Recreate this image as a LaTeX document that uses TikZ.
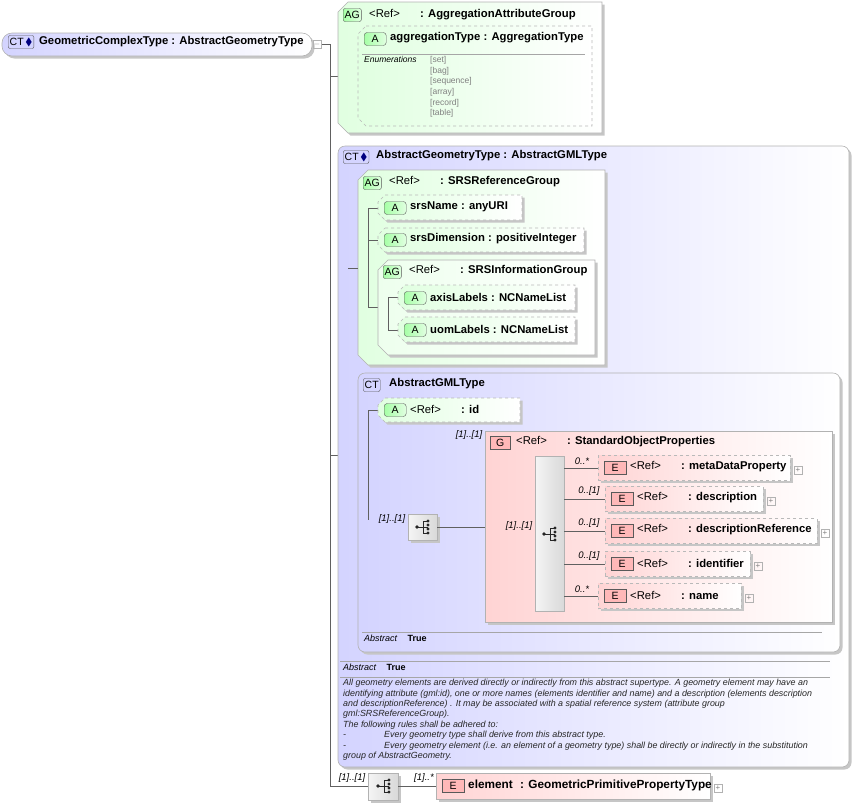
\documentclass[tikz,border=0pt]{standalone}
\usepackage{amssymb}
\usepackage{fontspec}
\setmainfont{Liberation Sans}
\usetikzlibrary{shadows}
\newcommand\refx{\makebox[51pt][l]{\mdseries<Ref>}\bfseries}
\begin{document}
\begin{tikzpicture}[x=1pt,y=-1pt,
  ln/.style={draw=gray!75!black,line width=0.6pt},
  box/.style={anchor=north west,inner sep=0pt,outer sep=0pt,line width=0.6pt},
  sh/.style={drop shadow={shadow xshift=2.5pt,shadow yshift=-2.5pt,fill=gray!45,opacity=1}},
  grn/.style={draw=gray!60,line width=0.6pt,left color=green!12!white,right color=white},
  attr/.style={draw=gray!55,line width=0.6pt,dashed,left color=green!12!white,right color=white},
  elem/.style={box,draw=gray!55,dashed,left color=red!17!white,right color=white},
  ctb/.style={box,draw=gray!60,rounded corners=7pt,left color=blue!17!white,right color=white},
  seq/.style={box,draw=gray!60,left color=gray!8,right color=gray!30},
  badge/.style={anchor=west,draw=gray!70!black,rounded corners=2pt,inner sep=1.5pt,minimum height=13pt,font=\fontsize{10.5}{11}\selectfont},
  bA/.style={badge,left color=green!35!white,right color=green!12!white,rounded corners=3pt,minimum width=22pt},
  bG/.style={badge,left color=green!35!white,right color=green!12!white},
  bE/.style={badge,fill=red!28,rounded corners=0pt,minimum width=22pt},
  bCT/.style={badge,fill=blue!17},
  lbl/.style={anchor=west,inner sep=0pt,font=\fontsize{11.3}{13}\selectfont\bfseries},
  rl/.style={anchor=west,inner sep=0pt,font=\fontsize{11.3}{13}\selectfont},
  card/.style={anchor=south,inner sep=0pt,font=\fontsize{9.5}{10}\selectfont\itshape},
  small/.style={anchor=north west,inner sep=0pt,font=\fontsize{9}{10.5}\selectfont},
  plus/.style={draw=gray!60,minimum size=8pt,inner sep=0pt,font=\fontsize{8}{8}\selectfont,text=gray},
]
\useasboundingbox (0,0) rectangle (853,804);
\newcommand\bx[6]{\node[#6,minimum width={(#3-#1)*1pt},minimum height={(#4-#2)*1pt}] (#5) at (#1,#2) {};}
\newcommand\cham[6]{\path[#6] (#1+#5,#2)--(#3,#2)--(#3,#4)--(#1+#5,#4)--(#1,#4-#5)--(#1,#2+#5)--cycle;}
\newcommand\seqicon[2]{%
 \fill[gray!30!black] (#1-6,#2) circle (1.8pt);
 \draw[gray!30!black,line width=0.8pt] (#1-6,#2)--(#1,#2) (#1,#2-6)--(#1,#2+6) (#1,#2-6)--(#1+5,#2-6) (#1,#2)--(#1+5,#2) (#1,#2+6)--(#1+5,#2+6);
 \foreach \yy in {-6,-2,2,6} \fill[gray!30!black] (#1+5,#2+\yy) circle (1.7pt);}

% ---- connectors (behind) ----
\draw[ln] (321,44)--(330,44)--(330,786)--(368,786);
\draw[ln] (330,76)--(358,76);
\draw[ln] (330,455)--(348,455);
\draw[ln] (348,268)--(348,513)--(368,513)--(368,520)--(408,520);

% root
\bx{2}{33}{312}{56}{root}{ctb,sh,rounded corners=10pt}
\node[bCT] (rootb) at (8,42) {CT\,\textcolor{blue!50!black}{$\blacklozenge$}};
\node[lbl] at (39,42) {GeometricComplexType : AbstractGeometryType};
\node[plus] (rminus) at (317,44) {$-$};

% AG aggregation
\cham{338}{2}{602}{133}{10}{grn,sh}
\node[bG] at (343,15) {AG};
\node[rl] at (369,15) {\refx: AggregationAttributeGroup};
\cham{358}{26}{592}{126}{8}{attr}
\node[bA] at (364,39) {A};
\node[lbl] at (390,38) {aggregationType : AggregationType};
\draw[gray!70] (362,54)--(585,54);
\node[small,font=\fontsize{8.5}{10}\selectfont\itshape] at (364,56) {Enumerations};
\foreach \t [count=\i from 0] in {set,bag,sequence,array,record,table}
  \node[small,text=gray,font=\fontsize{8.5}{10}\selectfont] at (430,56+\i*10.7) {[\t]};

% CT AbstractGeometryType
\bx{338}{146}{849}{767}{agt}{ctb,sh}
\node[bCT] at (343,157) {CT\,\textcolor{blue!50!black}{$\blacklozenge$}};
\node[lbl] at (376,156) {AbstractGeometryType : AbstractGMLType};

% SRS reference group
\cham{358}{170}{605}{365}{10}{grn,sh}
\draw[ln] (348,268)--(358,268);
\node[bG] at (363,183) {AG};
\node[rl] at (389,182) {\refx: SRSReferenceGroup};
\draw[ln] (368,208)--(368,307);
\draw[ln] (368,208)--(378,208) (368,240)--(378,240) (368,307)--(378,307);
\cham{378}{195}{522}{220}{7}{attr,sh}
\node[bA] at (384,208) {A};
\node[lbl] at (410,207) {srsName : anyURI};
\cham{378}{228}{584}{252}{7}{attr,sh}
\node[bA] at (384,240) {A};
\node[lbl] at (410,239) {srsDimension : positiveInteger};
\cham{378}{260}{595}{355}{10}{grn,sh,left color=green!7!white}
\node[bG] at (383,272) {AG};
\node[rl] at (409,271) {\refx: SRSInformationGroup};
\draw[ln] (388,297)--(388,330) (388,297)--(398,297) (388,330)--(398,330);
\cham{398}{285}{575}{310}{7}{attr,sh}
\node[bA] at (404,298) {A};
\node[lbl] at (430,297) {axisLabels : NCNameList};
\cham{398}{317}{575}{342}{7}{attr,sh}
\node[bA] at (404,330) {A};
\node[lbl] at (430,329) {uomLabels : NCNameList};

% CT AbstractGMLType
\bx{358}{373}{840}{652}{gml}{ctb,sh}
\node[bCT] at (363,385) {CT};
\node[lbl] at (389,384) {AbstractGMLType};
\draw[ln] (368,410)--(368,520);
\draw[ln] (368,410)--(378,410);
\cham{378}{398}{520}{422}{7}{attr,sh}
\node[bA] at (384,410) {A};
\node[rl] at (410,409) {\refx: id};
\node[card] at (392,524) {[1]..[1]};
\bx{408}{514}{437}{540}{seq1}{seq,sh}
\seqicon{423}{527}
\draw[ln] (437,527)--(535,527);

% group StandardObjectProperties
\bx{485}{431}{832}{622}{sop}{box,draw=gray!60,left color=red!17!white,right color=white,sh}
\node[card] at (469,440) {[1]..[1]};
\node[badge,fill=red!28,rounded corners=0pt,minimum width=20pt] at (490,443) {G};
\node[rl] at (516,442) {\refx: StandardObjectProperties};
\node[card] at (519,531) {[1]..[1]};
\bx{535}{456}{564}{611}{seq2}{seq}
\seqicon{550}{534}
\foreach \yc/\xa/\xb/\c/\nm in {468/598/790/0..*/metaDataProperty, 499/605/763/0..[1]/description, 531/605/817/0..[1]/descriptionReference, 564/605/750/0..[1]/identifier, 596/598/741/0..*/name}{
  \draw[ln] (564,\yc)--(\xa,\yc);
  \node[card] at (\xa-16,\yc-3) {\c};
  \node[elem,sh,minimum width={(\xb-\xa)*1pt},minimum height=25pt] at (\xa,\yc-12.5) {};
  \node[bE] at (\xa+6,\yc) {E};
  \node[rl] at (\xa+32,\yc-1) {\refx: \nm};
  \node[plus] at (\xb+8,\yc+2) {+};
}
\draw[gray!70] (362,632)--(822,632);
\node[small] at (364,635) {\textit{Abstract}\hspace{10pt}\textbf{True}};

% documentation
\draw[gray!70] (340,661)--(830,661);
\node[small] at (343,664) {\textit{Abstract}\hspace{10pt}\textbf{True}};
\draw[gray!70] (340,677)--(830,677);
\node[small,align=left,text=gray!30!black,font=\fontsize{8.9}{10.4}\selectfont\itshape] at (343,679) {All geometry elements are derived directly or indirectly from this abstract supertype. A geometry element may have an\\
identifying attribute (gml:id), one or more names (elements identifier and name) and a description (elements description\\
and descriptionReference) . It may be associated with a spatial reference system (attribute group\\
gml:SRSReferenceGroup).\\
The following rules shall be adhered to:\\
-\hspace{38pt}Every geometry type shall derive from this abstract type.\\
-\hspace{38pt}Every geometry element (i.e. an element of a geometry type) shall be directly or indirectly in the substitution\\
group of AbstractGeometry.};

% bottom sequence
\node[card] at (352,783) {[1]..[1]};
\bx{368}{773}{398}{800}{seq3}{seq,sh}
\seqicon{384}{786}
\draw[ln] (398,786)--(436,786);
\node[card] at (424,783) {[1]..*};
\bx{436}{773}{710}{799}{elem}{box,draw=gray!60,left color=red!17!white,right color=white,sh}
\node[bE] at (442,786) {E};
\node[lbl,font=\fontsize{11.8}{14}\selectfont\bfseries] at (468,785) {element\hspace{4pt} : GeometricPrimitivePropertyType};
\node[plus] at (718,788) {+};
\end{tikzpicture}
\end{document}
